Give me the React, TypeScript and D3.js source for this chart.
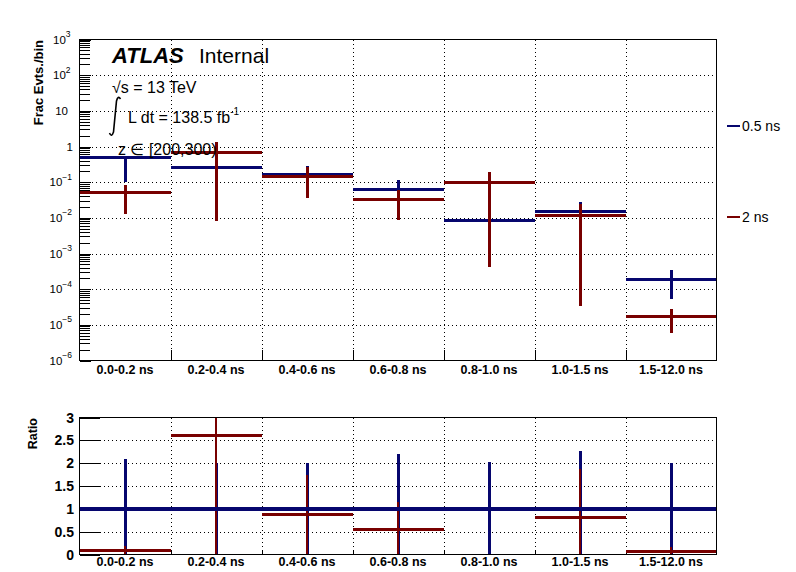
import React from "react";
import * as d3 from "d3";

// ---- data ----
const categories = ["0.0-0.2 ns", "0.2-0.4 ns", "0.4-0.6 ns", "0.6-0.8 ns", "0.8-1.0 ns", "1.0-1.5 ns", "1.5-12.0 ns"];

// series "0.5 ns" (top panel)
const blueValues = [0.52, 0.271, 0.169, 0.0624, 0.00895, 0.016, 1.94e-4];
const blueLow = [0.1, 0.03, 0.06, 0.02, 0.002, 0.002, 5.4e-5];
const blueHigh = [0.52, 0.5, 0.29, 0.117, 0.016, 0.0276, 3.46e-4];

// series "2 ns" (top panel)
const redValues = [0.0514, 0.714, 0.145, 0.0342, 0.098, 0.0124, 1.77e-5];
const redLow = [0.0127, 0.0082, 0.037, 0.00895, 0.00041, 3.4e-5, 6.0e-6];
const redHigh = [0.083, 1.34, 0.27, 0.06, 0.192, 0.024, 2.78e-5];

// ratio panel
const blueRatio = [1, 1, 1, 1, 1, 1, 1];
const blueRatioErr = [1.1, 1.0, 1.0, 1.19, 1.02, 1.26, 1.0];
const redRatio = [0.09, 2.62, 0.88, 0.55, 11, 0.82, 0.08];
const redRatioErr = [0.09, 2.7, 0.87, 0.61, 10, 1.06, 0.08];

const topExponents = [-6, -5, -4, -3, -2, -1, 0, 1, 2, 3];
const ratioTicks = [0, 0.5, 1, 1.5, 2, 2.5, 3];

const seriesNames = ["0.5 ns", "2 ns"];

const BLUE = "#06066e";
const RED = "#780000";
const FONT = "'Liberation Sans', Arial, Helvetica, sans-serif";

export default function App() {
  const W = 796, H = 572;
  const left = 79.5, right = 716.5;
  const topY0 = 39.5, topY1 = 360.5;
  const rY0 = 417.5, rY1 = 554.5;

  const x = d3.scaleBand<string>().domain(categories).range([left, right]).padding(0);
  const y = d3.scaleLog().domain([1e-6, 1e3]).range([topY1, topY0]);
  const yr = d3.scaleLinear().domain([0, 3]).range([rY1, rY0]);

  const edges = categories.slice(1).map((c) => Math.round(x(c)!) + 0.5);
  const clampR = (v: number) => Math.max(0, Math.min(3, v));
  const px = (v: number) => Math.round(v) + 0.5;

  // minor ticks on log axis
  const minorTicks: number[] = [];
  for (let e = -6; e < 3; e++) {
    for (let m = 2; m <= 9; m++) minorTicks.push(m * Math.pow(10, e));
  }

  const dotted = { stroke: "#000", strokeWidth: 1, strokeDasharray: "1,3" };

  const expLabel = (e: number) => {
    const yy = y(Math.pow(10, e));
    if (e === 0) return <text key={e} x={73} y={yy} textAnchor="end" dominantBaseline="central" fontSize={11.5}>1</text>;
    if (e === 1) return <text key={e} x={68} y={yy} textAnchor="end" dominantBaseline="central" fontSize={11.5}>10</text>;
    return (
      <text key={e} x={e < 0 ? 49.5 : 53} y={yy} dominantBaseline="central" fontSize={11.5}>
        10<tspan fontSize={8.5} dy={-5.5}>{e < 0 ? "\u2212" + Math.abs(e) : String(e)}</tspan>
      </text>
    );
  };

  const drawSeries = (vals: number[], lo: number[], hi: number[], color: string) =>
    categories.map((c, i) => {
      const x0 = x(c)!, bw = x.bandwidth(), xc = Math.round(x0 + bw / 2);
      return (
        <g key={c}>
          <line x1={xc} x2={xc} y1={y(hi[i])} y2={y(lo[i])} stroke={color} strokeWidth={3} />
          <line x1={x0} x2={x0 + bw} y1={Math.round(y(vals[i]))} y2={Math.round(y(vals[i]))} stroke={color} strokeWidth={3} />
        </g>
      );
    });

  return (
    <svg width={W} height={H} style={{ position: "absolute", left: 0, top: 0, background: "#fff" }} fontFamily={FONT} shapeRendering="crispEdges">
      <rect x={0} y={0} width={W} height={H} fill="#fff" />
      <defs>
        <clipPath id="topClip"><rect x={left} y={topY0} width={right - left} height={topY1 - topY0} /></clipPath>
        <clipPath id="ratioClip"><rect x={left} y={rY0} width={right - left} height={rY1 - rY0} /></clipPath>
      </defs>
      {/* ---------- top panel ---------- */}
      {topExponents.filter((e) => e > -6 && e < 3).map((e) => (
        <line key={"g" + e} x1={left} x2={right} y1={px(y(Math.pow(10, e)))} y2={px(y(Math.pow(10, e)))} {...dotted} />
      ))}
      {edges.map((ex, i) => (
        <line key={"gv" + i} x1={ex} x2={ex} y1={topY0} y2={topY1} {...dotted} />
      ))}
      {topExponents.map((e) => (
        <line key={"mt" + e} x1={left} x2={left + 11} y1={px(y(Math.pow(10, e)))} y2={px(y(Math.pow(10, e)))} stroke="#000" />
      ))}
      {minorTicks.map((v, i) => (
        <line key={"mn" + i} x1={left} x2={left + 10} y1={px(y(v))} y2={px(y(v))} stroke="#000" />
      ))}
      {edges.map((ex, i) => (
        <line key={"xt" + i} x1={ex} x2={ex} y1={topY1} y2={topY1 - 11} stroke="#000" />
      ))}
      <g clipPath="url(#topClip)">
        {drawSeries(blueValues, blueLow, blueHigh, BLUE)}
        {drawSeries(redValues, redLow, redHigh, RED)}
      </g>
      <rect x={left} y={topY0} width={right - left} height={topY1 - topY0} fill="none" stroke="#000" strokeWidth={1} />
      {topExponents.map(expLabel)}
      {categories.map((c) => (
        <text key={"xl" + c} x={x(c)! + x.bandwidth() / 2} y={374} textAnchor="middle" fontSize={12.5} fontWeight="bold">{c}</text>
      ))}
      <text transform={`translate(43,40) rotate(-90)`} textAnchor="end" fontSize={13} fontWeight="bold">Frac Evts./bin</text>

      {/* annotations */}
      <text x={112} y={63} fontSize={22} fontWeight="bold" fontStyle="italic">ATLAS</text>
      <text x={199} y={63} fontSize={21}>Internal</text>
      <g fontSize={16}>
        <text x={112} y={93}>√s = 13 TeV</text>
        <path d="M109.5,133 Q111.5,138 113.5,132 L116.5,101 Q118,95 120.5,99" fill="none" stroke="#000" strokeWidth={1.6} shapeRendering="geometricPrecision" />
        <text x={128} y={123}>L dt = 138.5 fb<tspan fontSize={10} dy={-8}>-1</tspan></text>
        <text x={118} y={155}>z ∈ [200,300)</text>
      </g>

      {/* legend */}
      <line x1={727} x2={740} y1={125.5} y2={125.5} stroke={BLUE} strokeWidth={2} />
      <text x={742} y={126} dominantBaseline="central" fontSize={14}>{seriesNames[0]}</text>
      <line x1={727} x2={740} y1={216.5} y2={216.5} stroke={RED} strokeWidth={2} />
      <text x={742} y={217} dominantBaseline="central" fontSize={14}>{seriesNames[1]}</text>

      {/* ---------- ratio panel ---------- */}
      {ratioTicks.filter((t) => t > 0 && t < 3).map((t) => (
        <line key={"rg" + t} x1={left} x2={right} y1={px(yr(t))} y2={px(yr(t))} {...dotted} />
      ))}
      {edges.map((ex, i) => (
        <line key={"rgv" + i} x1={ex} x2={ex} y1={rY0} y2={rY1} {...dotted} />
      ))}
      {ratioTicks.map((t) => (
        <line key={"rt" + t} x1={left} x2={left + 20} y1={px(yr(t))} y2={px(yr(t))} stroke="#000" />
      ))}
      {edges.map((ex, i) => (
        <line key={"rxt" + i} x1={ex} x2={ex} y1={rY1} y2={rY1 - 5} stroke="#000" />
      ))}
      <g clipPath="url(#ratioClip)">
        {categories.map((c, i) => {
          const xc = Math.round(x(c)! + x.bandwidth() / 2);
          return (
            <line key={"be" + c} x1={xc} x2={xc} y1={yr(clampR(blueRatio[i] + blueRatioErr[i]))} y2={yr(clampR(blueRatio[i] - blueRatioErr[i]))} stroke={BLUE} strokeWidth={3} />
          );
        })}
        {categories.map((c, i) => {
          if (redRatio[i] > 3) return null;
          const x0 = x(c)!, bw = x.bandwidth(), xc = Math.round(x0 + bw / 2);
          return (
            <g key={"re" + c}>
              <line x1={xc} x2={xc} y1={yr(clampR(redRatio[i] + redRatioErr[i]))} y2={yr(clampR(redRatio[i] - redRatioErr[i]))} stroke={RED} strokeWidth={2} />
              <line x1={x0} x2={x0 + bw} y1={Math.round(yr(redRatio[i]))} y2={Math.round(yr(redRatio[i]))} stroke={RED} strokeWidth={3} />
            </g>
          );
        })}
        {categories.map((c, i) => {
          const x0 = x(c)!, bw = x.bandwidth();
          return <line key={"bl" + c} x1={x0} x2={x0 + bw} y1={Math.round(yr(blueRatio[i]))} y2={Math.round(yr(blueRatio[i]))} stroke={BLUE} strokeWidth={4} />;
        })}
      </g>
      <rect x={left} y={rY0} width={right - left} height={rY1 - rY0} fill="none" stroke="#000" strokeWidth={1} />
      {ratioTicks.map((t) => (
        <text key={"rl" + t} x={74} y={yr(t)} textAnchor="end" dominantBaseline="central" fontSize={14} fontWeight="bold">{String(t)}</text>
      ))}
      {categories.map((c) => (
        <text key={"rxl" + c} x={x(c)! + x.bandwidth() / 2} y={566} textAnchor="middle" fontSize={12.5} fontWeight="bold">{c}</text>
      ))}
      <text transform={`translate(37,418) rotate(-90)`} textAnchor="end" fontSize={12.5} fontWeight="bold">Ratio</text>
    </svg>
  );
}
